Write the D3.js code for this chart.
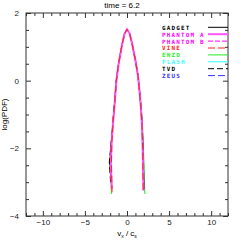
<!DOCTYPE html>
<html>
<head>
<meta charset="utf-8">
<script src="https://cdn.jsdelivr.net/npm/d3@7"></script>
<style>
  body { margin: 0; background: #fff; }
  text { font-family: "Liberation Sans", "DejaVu Sans", sans-serif; }
</style>
</head>
<body>
<div id="chart"></div>
<script>
// series names, colours and dash styles (legend order)
let names = ["GADGET", "PHANTOM A", "PHANTOM B", "VINE", "ENZO", "FLASH", "TVD", "ZEUS"];
let colors = ["#000000", "#ff55ff", "#ff00ff", "#ff2020", "#22ee22", "#33ffff", "#000000", "#3333ff"];
let dashes = [null, null, "5,2", "7,3", null, null, "6,3", "7,3"];
let widths = [1, 2, 1, 1, 1, 1, 1, 1];

// velocity (v_x / c_s) and log(PDF) per series
let vxGadget  = [-1.90, -2.05, -1.85, -1.66, -1.45, -1.27, -1.0, -0.6, -0.3, 0, 0.3, 0.6, 1.0, 1.3, 1.5, 1.66, 1.79, 1.90, 1.97, 2.02];
let pdfGadget = [-2.90, -2.40, -1.80, -1.20, -0.60, 0.00, 0.50, 1.05, 1.38, 1.52, 1.40, 1.10, 0.60, 0.15, -0.35, -0.80, -1.30, -2.00, -2.70, -3.20];
let vxPhanA   = [-1.80, -1.92, -1.82, -1.64, -1.44, -1.26, -0.99, -0.6, -0.3, 0, 0.3, 0.6, 1.0, 1.3, 1.5, 1.65, 1.77, 1.86, 1.92, 1.96];
let pdfPhanA  = [-3.20, -2.50, -1.80, -1.20, -0.60, 0.00, 0.50, 1.05, 1.38, 1.52, 1.40, 1.10, 0.60, 0.15, -0.35, -0.80, -1.30, -2.00, -2.70, -3.25];
let vxPhanB   = [-1.82, -1.95, -1.84, -1.65, -1.45, -1.27, -1.0, -0.6, -0.3, 0, 0.3, 0.6, 1.0, 1.3, 1.5, 1.65, 1.78, 1.87, 1.93, 1.97];
let pdfPhanB  = [-3.10, -2.40, -1.80, -1.20, -0.60, 0.00, 0.50, 1.05, 1.38, 1.53, 1.40, 1.10, 0.60, 0.15, -0.35, -0.80, -1.30, -2.00, -2.70, -3.20];
let vxVine    = [-1.78, -1.84, -1.80, -1.65, -1.45, -1.26, -1.0, -0.6, -0.3, 0, 0.3, 0.6, 1.0, 1.3, 1.5, 1.65, 1.78, 1.86, 1.90, 1.92];
let pdfVine   = [-3.30, -2.40, -1.80, -1.20, -0.60, 0.00, 0.50, 1.05, 1.38, 1.52, 1.40, 1.10, 0.60, 0.15, -0.35, -0.80, -1.30, -2.00, -2.70, -3.25];
let vxEnzo    = [-1.85, -1.98, -1.86, -1.66, -1.46, -1.28, -1.0, -0.6, -0.3, 0, 0.3, 0.6, 1.0, 1.32, 1.53, 1.70, 1.84, 1.95, 2.05, 2.12];
let pdfEnzo   = [-3.35, -2.50, -1.80, -1.20, -0.60, 0.00, 0.50, 1.05, 1.38, 1.52, 1.40, 1.10, 0.62, 0.15, -0.35, -0.80, -1.30, -2.00, -2.70, -3.35];
let vxFlash   = [-1.88, -2.02, -1.86, -1.66, -1.45, -1.27, -1.0, -0.6, -0.3, 0, 0.3, 0.6, 1.0, 1.31, 1.52, 1.68, 1.82, 1.93, 2.02, 2.08];
let pdfFlash  = [-3.00, -2.40, -1.80, -1.20, -0.60, 0.00, 0.50, 1.05, 1.38, 1.52, 1.40, 1.10, 0.60, 0.15, -0.35, -0.80, -1.30, -2.00, -2.70, -3.30];
let vxTvd     = [-1.95, -2.10, -1.87, -1.67, -1.46, -1.27, -1.0, -0.6, -0.3, 0, 0.3, 0.6, 1.0, 1.3, 1.51, 1.67, 1.80, 1.90, 1.96, 1.99];
let pdfTvd    = [-3.00, -2.40, -1.80, -1.20, -0.60, 0.00, 0.50, 1.05, 1.38, 1.52, 1.40, 1.10, 0.60, 0.15, -0.35, -0.80, -1.30, -2.00, -2.70, -3.20];
let vxZeus    = [-1.86, -1.98, -1.85, -1.65, -1.45, -1.27, -1.0, -0.6, -0.3, 0, 0.3, 0.6, 1.0, 1.31, 1.52, 1.68, 1.81, 1.92, 2.00, 2.05];
let pdfZeus   = [-3.05, -2.45, -1.80, -1.20, -0.60, 0.00, 0.50, 1.05, 1.38, 1.52, 1.40, 1.10, 0.60, 0.15, -0.35, -0.80, -1.30, -2.00, -2.70, -3.25];

let xMajor = [-10, -5, 0, 5, 10];
let yMajor = [-4, -2, 0, 2];

let allVx = [vxGadget, vxPhanA, vxPhanB, vxVine, vxEnzo, vxFlash, vxTvd, vxZeus];
let allPdf = [pdfGadget, pdfPhanA, pdfPhanB, pdfVine, pdfEnzo, pdfFlash, pdfTvd, pdfZeus];

let margin = { top: 13, right: 13, bottom: 25, left: 26 },
    width = 241 - margin.left - margin.right,
    height = 241 - margin.top - margin.bottom;

let svg = d3.select("#chart").append("svg")
    .attr("width", 241)
    .attr("height", 241);

let vis = svg.append("g")
    .attr("transform", "translate(" + margin.left + "," + margin.top + ")");

let x = d3.scaleLinear().domain([-12, 12]).range([0, width]);
let y = d3.scaleLinear().domain([-4, 2]).range([height, 0]);

let xMinor = d3.range(-12, 13, 1).filter(function (d) { return xMajor.indexOf(d) === -1; });
let yMinor = d3.range(-4, 2.01, 0.5).filter(function (d) { return yMajor.indexOf(d) === -1; });

function styleAxis(g) {
    g.select(".domain").remove();
    g.selectAll("line").attr("stroke", "#333").attr("stroke-width", 1);
    g.selectAll("text").attr("fill", "#222").style("font-size", "8px");
}

let fmt = d3.format("d");

// bottom axis with labels
vis.append("g").attr("transform", "translate(0," + height + ")")
    .call(d3.axisBottom(x).tickValues(xMajor).tickSize(-5).tickPadding(3).tickFormat(fmt))
    .call(styleAxis);
vis.append("g").attr("transform", "translate(0," + height + ")")
    .call(d3.axisBottom(x).tickValues(xMinor).tickSize(-3).tickFormat(""))
    .call(styleAxis);
// top axis
vis.append("g")
    .call(d3.axisTop(x).tickValues(xMajor).tickSize(-5).tickFormat(""))
    .call(styleAxis);
vis.append("g")
    .call(d3.axisTop(x).tickValues(xMinor).tickSize(-3).tickFormat(""))
    .call(styleAxis);
// left axis with labels
vis.append("g")
    .call(d3.axisLeft(y).tickValues(yMajor).tickSize(-5).tickPadding(7).tickFormat(fmt))
    .call(styleAxis);
vis.append("g")
    .call(d3.axisLeft(y).tickValues(yMinor).tickSize(-3).tickFormat(""))
    .call(styleAxis);
// right axis
vis.append("g").attr("transform", "translate(" + width + ",0)")
    .call(d3.axisRight(y).tickValues(yMajor).tickSize(-5).tickFormat(""))
    .call(styleAxis);
vis.append("g").attr("transform", "translate(" + width + ",0)")
    .call(d3.axisRight(y).tickValues(yMinor).tickSize(-3).tickFormat(""))
    .call(styleAxis);

vis.append("rect")
    .attr("width", width).attr("height", height)
    .attr("fill", "none").attr("stroke", "#333").attr("stroke-width", 1);

let line = d3.line()
    .x(function (d) { return x(d[0]); })
    .y(function (d) { return y(d[1]); });

// draw order: others first, red/magenta on top
let order = [5, 7, 4, 0, 6, 2, 1, 3];
order.forEach(function (i) {
    let pts = allVx[i].map(function (v, j) { return [v, allPdf[i][j]]; });
    vis.append("path")
        .datum(pts)
        .attr("d", line)
        .attr("fill", "none")
        .attr("stroke", colors[i])
        .attr("stroke-width", widths[i])
        .attr("stroke-dasharray", dashes[i]);
});

// legend
let legend = vis.selectAll(".legend")
    .data(names)
    .enter().append("g")
    .attr("class", "legend")
    .attr("transform", function (d, i) { return "translate(0," + (14.3 + i * 6.9) + ")"; });

legend.append("text")
    .attr("x", 136)
    .attr("y", 2.4)
    .text(function (d) { return d; })
    .attr("fill", function (d, i) { return colors[i] === "#ff55ff" ? "#ff00ff" : colors[i]; })
    .style("font-family", "'DejaVu Sans Mono', monospace")
    .style("font-weight", "bold")
    .style("font-size", "5.9px")
    .style("letter-spacing", "1.2px");

legend.append("line")
    .attr("x1", 182).attr("x2", width)
    .attr("stroke", function (d, i) { return colors[i]; })
    .attr("stroke-width", function (d, i) { return widths[i]; })
    .attr("stroke-dasharray", function (d, i) { return dashes[i]; });

// title and axis labels
svg.append("text")
    .attr("x", 122).attr("y", 8)
    .attr("text-anchor", "middle")
    .style("font-size", "8px")
    .text("time = 6.2");

let xl = svg.append("text")
    .attr("x", 127).attr("y", 236)
    .attr("text-anchor", "middle")
    .style("font-size", "8px");
xl.append("tspan").text("v");
xl.append("tspan").attr("dy", 2).style("font-size", "5px").text("x");
xl.append("tspan").attr("dy", -2).text(" / c");
xl.append("tspan").attr("dy", 2).style("font-size", "5px").text("s");

svg.append("text")
    .attr("transform", "translate(7," + (margin.top + height / 2) + ") rotate(-90)")
    .attr("text-anchor", "middle")
    .style("font-size", "8px")
    .text("log(PDF)");
</script>
</body>
</html>
